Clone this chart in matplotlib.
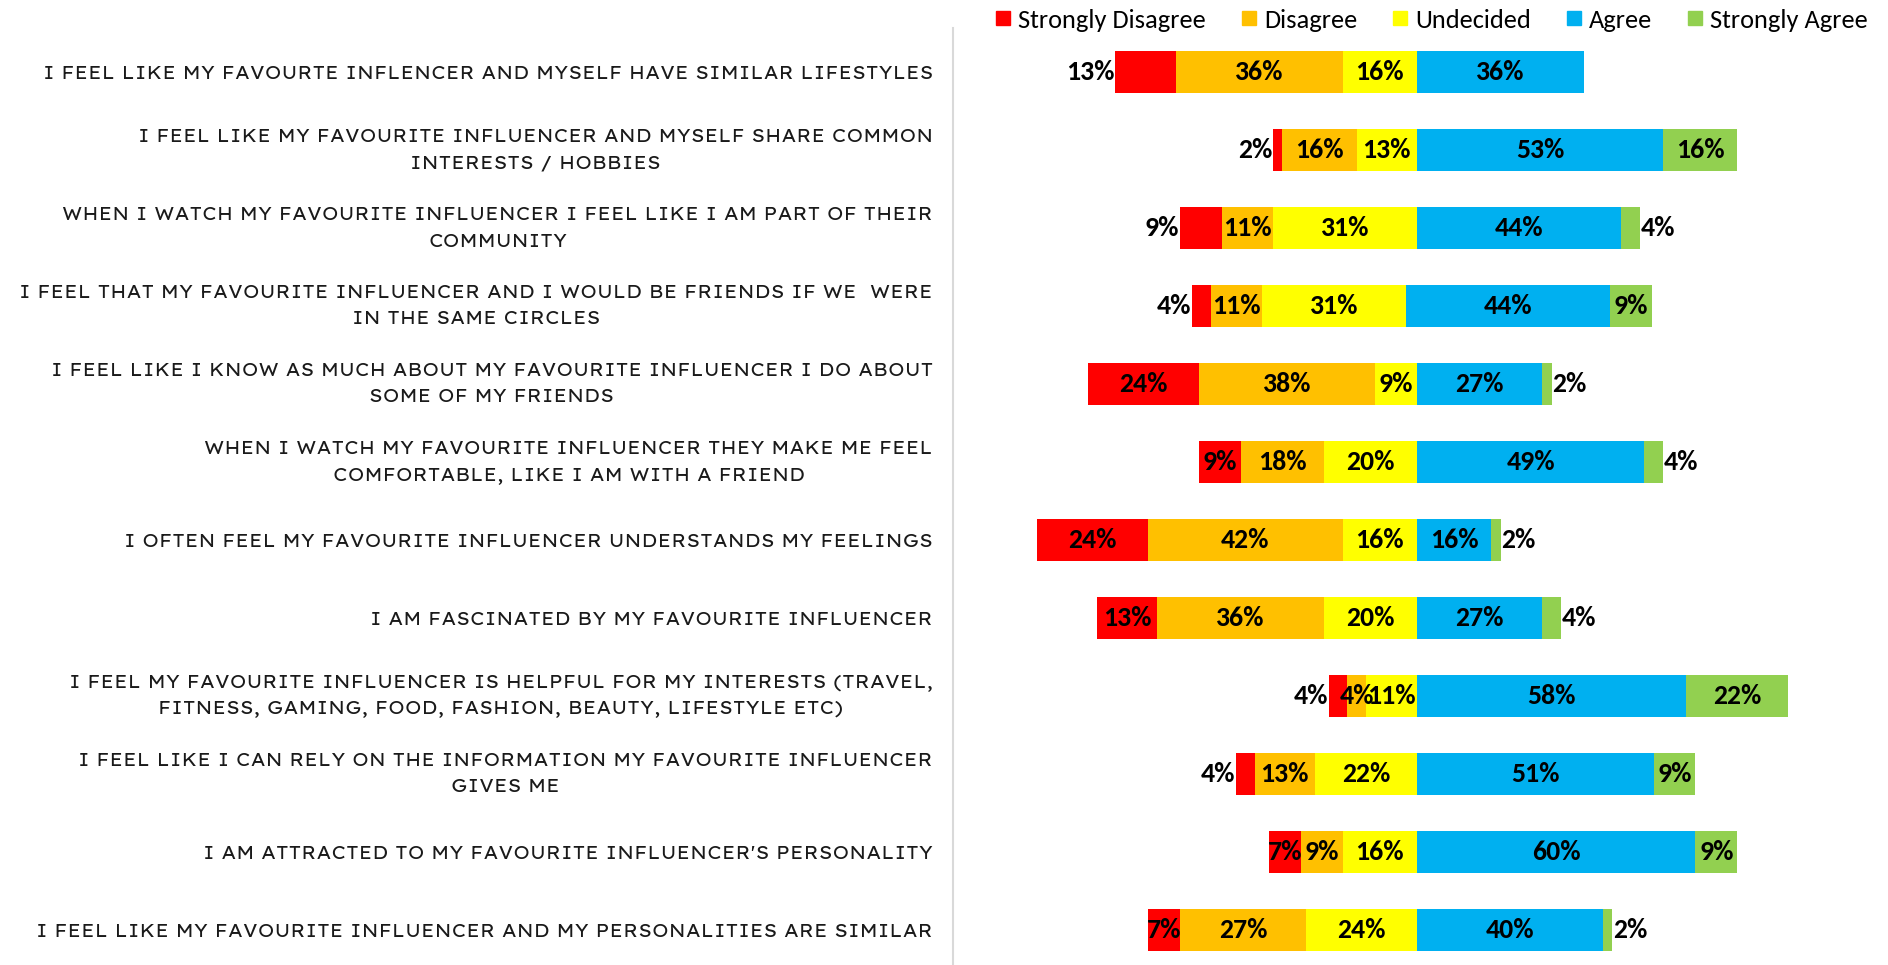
import numpy as np
import matplotlib
matplotlib.use("Agg")
import matplotlib.pyplot as plt
from matplotlib.lines import Line2D
from matplotlib.font_manager import FontProperties

# Survey statements (top to bottom)
statements = [
    "I FEEL LIKE MY FAVOURTE INFLENCER AND MYSELF HAVE SIMILAR LIFESTYLES",
    "I FEEL LIKE MY FAVOURITE INFLUENCER AND MYSELF SHARE COMMON\nINTERESTS / HOBBIES",
    "WHEN I WATCH MY FAVOURITE INFLUENCER I FEEL LIKE I AM PART OF THEIR\nCOMMUNITY",
    "I FEEL THAT MY FAVOURITE INFLUENCER AND I WOULD BE FRIENDS IF WE  WERE\nIN THE SAME CIRCLES",
    "I FEEL LIKE I KNOW AS MUCH ABOUT MY FAVOURITE INFLUENCER I DO ABOUT\nSOME OF MY FRIENDS",
    "WHEN I WATCH MY FAVOURITE INFLUENCER THEY MAKE ME FEEL\nCOMFORTABLE, LIKE I AM WITH A FRIEND",
    "I OFTEN FEEL MY FAVOURITE INFLUENCER UNDERSTANDS MY FEELINGS",
    "I AM FASCINATED BY MY FAVOURITE INFLUENCER",
    "I FEEL MY FAVOURITE INFLUENCER IS HELPFUL FOR MY INTERESTS (TRAVEL,\nFITNESS, GAMING, FOOD, FASHION, BEAUTY, LIFESTYLE ETC)",
    "I FEEL LIKE I CAN RELY ON THE INFORMATION MY FAVOURITE INFLUENCER\nGIVES ME",
    "I AM ATTRACTED TO MY FAVOURITE INFLUENCER'S PERSONALITY",
    "I FEEL LIKE MY FAVOURITE INFLUENCER AND MY PERSONALITIES ARE SIMILAR",
]

# Response shares in percent
strongly_disagree = [13, 2, 9, 4, 24, 9, 24, 13, 4, 4, 7, 7]
disagree = [36, 16, 11, 11, 38, 18, 42, 36, 4, 13, 9, 27]
undecided = [16, 13, 31, 31, 9, 20, 16, 20, 11, 22, 16, 24]
agree = [36, 53, 44, 44, 27, 49, 16, 27, 58, 51, 60, 40]
strongly_agree = [0, 16, 4, 9, 2, 4, 2, 4, 22, 9, 9, 2]

series_names = ["Strongly Disagree", "Disagree", "Undecided", "Agree", "Strongly Agree"]
series_colors = ["#FF0000", "#FFC000", "#FFFF00", "#00B0F0", "#92D050"]

# Horizontal nudge of each bar's neutral point (percentage points)
baseline_shift = [0, 0, 0, -2.4, 0, 0, 0, 0, 0, 0, 0, 0]
# Rows whose end labels sit outside the bar
sd_label_outside = [True, True, True, True, False, False, False, False, True, True, False, False]
sa_label_outside = [False, False, True, False, True, True, True, True, False, False, False, True]

W, H = 1888, 965
fig = plt.figure(figsize=(W / 100, H / 100), dpi=100)
ax = fig.add_axes([953 / W, 0, (1881 - 953) / W, (H - 28) / H])

label_font = FontProperties(family="Lexend Exa", weight=300)
legend_font = FontProperties(family="Carlito", weight="normal", size=19)
value_font = FontProperties(family="Carlito", weight="bold", size=20)

sd = np.array(strongly_disagree, float)
d = np.array(disagree, float)
u = np.array(undecided, float)
a = np.array(agree, float)
sa = np.array(strongly_agree, float)
shift = np.array(baseline_shift, float)
y = np.arange(len(statements))

lefts = [shift - (sd + d + u), shift - (d + u), shift - u, shift, shift + a]
widths = [sd, d, u, a, sa]
bar_h = 0.54

for left, width, color in zip(lefts, widths, series_colors):
    mask = width > 0
    ax.barh(y[mask], width[mask], left=left[mask], height=bar_h, color=color, edgecolor="none")

# Value labels
for k, (left, width) in enumerate(zip(lefts, widths)):
    for i in range(len(y)):
        if width[i] <= 0:
            continue
        txt = f"{int(width[i])}%"
        if k == 0 and sd_label_outside[i]:
            ax.text(left[i] - 0.2, y[i], txt, ha="right", va="center", fontproperties=value_font, color="black")
        elif k == 4 and sa_label_outside[i]:
            ax.text(left[i] + width[i] + 0.2, y[i], txt, ha="left", va="center", fontproperties=value_font, color="black")
        else:
            ax.text(left[i] + width[i] / 2, y[i], txt, ha="center", va="center", fontproperties=value_font, color="black")

ax.set_xlim(-100, 100)
ax.set_ylim(11.445, -0.568)
ax.set_xticks([])

# Size the category labels so the widest line spans about 916 px
renderer = fig.canvas.get_renderer()
widest = 0
for s in statements:
    for line in s.split("\n"):
        probe = fig.text(0, 0, line, fontproperties=label_font, fontsize=12)
        widest = max(widest, probe.get_window_extent(renderer).width)
        probe.remove()
label_size = 12 * 916 / widest

ax.set_yticks(y)
ax.set_yticklabels(statements, fontproperties=label_font, fontsize=label_size, color="#1a1a1a")
for t in ax.get_yticklabels():
    t.set_multialignment("center")
    t.set_linespacing(1.6)
    if "\n" in t.get_text():
        t.set_verticalalignment("center")
ax.tick_params(axis="y", length=0, pad=14.4)

for side in ["top", "right", "bottom"]:
    ax.spines[side].set_visible(False)
ax.spines["left"].set_color("#D9D9D9")
ax.spines["left"].set_linewidth(1.5)

handles = [Line2D([], [], marker="s", linestyle="none", markersize=10.5, color=c) for c in series_colors]
fig.legend(handles, series_names, loc="center right", bbox_to_anchor=(1868 / W, 1 - 20 / H),
           ncol=5, frameon=False, prop=legend_font, handlelength=0.55, handletextpad=0.3,
           columnspacing=1.35, borderaxespad=0, borderpad=0)

fig.savefig("out.png", dpi=100)
